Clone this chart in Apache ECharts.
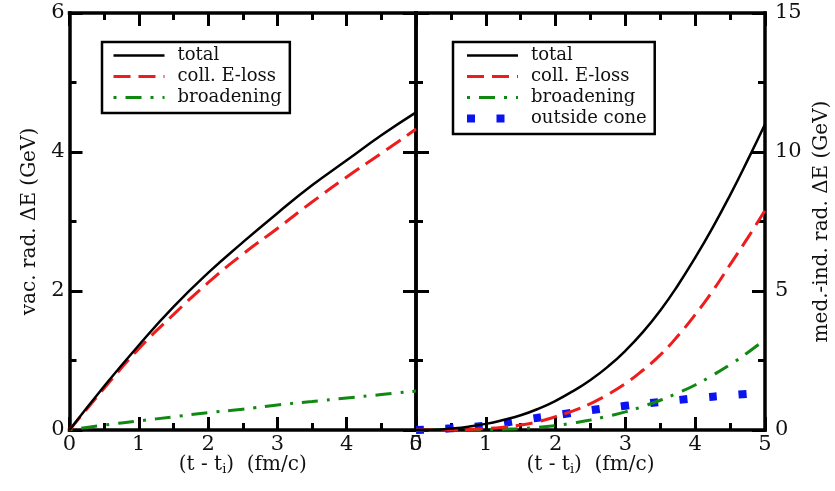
<!DOCTYPE html>
<html>
<head>
<meta charset="utf-8">
<script src="https://cdn.jsdelivr.net/npm/echarts@6/dist/echarts.min.js"></script>
<style>
  html, body { margin: 0; padding: 0; background: #fff; }
  #chart { width: 835px; height: 491px; }
</style>
</head>
<body>
<div id="chart"></div>
<script>
// time after creation, (t - t_i) in fm/c
const time = [0, 0.5, 1, 1.5, 2, 2.5, 3, 3.5, 4, 4.5, 5];
const timeFine = [0, 0.25, 0.5, 0.75, 1, 1.25, 1.5, 1.75, 2, 2.25, 2.5,
                  2.75, 3, 3.25, 3.5, 3.75, 4, 4.25, 4.5, 4.75, 5];

// vacuum radiation energy loss (GeV)
const vacTotal = [0, 0.63, 1.22, 1.77, 2.26, 2.70, 3.12, 3.52, 3.88, 4.24, 4.57];
const vacColl  = [0, 0.60, 1.17, 1.66, 2.12, 2.53, 2.90, 3.28, 3.64, 3.98, 4.33];
const vacBroad = [0, 0.07, 0.13, 0.19, 0.25, 0.30, 0.36, 0.41, 0.46, 0.51, 0.56];

// medium-induced radiation energy loss (GeV)
const medTotal = [0, 0.00, 0.05, 0.12, 0.22, 0.36, 0.53, 0.76, 1.05, 1.40, 1.80,
                  2.28, 2.85, 3.52, 4.30, 5.20, 6.20, 7.28, 8.45, 9.70, 11.0];
const medColl  = [0, 0.00, 0.00, 0.02, 0.05, 0.10, 0.18, 0.30, 0.48, 0.69, 0.95,
                  1.28, 1.67, 2.15, 2.70, 3.38, 4.15, 5.00, 5.95, 6.90, 7.90];
const medBroad = [0, 0.00, 0.00, 0.00, 0.01, 0.03, 0.05, 0.10, 0.16, 0.25, 0.36,
                  0.50, 0.65, 0.85, 1.07, 1.33, 1.62, 1.97, 2.35, 2.78, 3.25];
const medOutside = [0, 0.06, 0.16, 0.35, 0.53, 0.71, 0.87, 1.01, 1.14, 1.25, 1.35];

// axis ticks
const timeTicks = [0, 1, 2, 3, 4, 5];
const vacTicks  = [0, 2, 4, 6];
const medTicks  = [0, 5, 10, 15];

const FONT = '"DejaVu Serif", "Liberation Serif", serif';
const INK = '#111';

const pairs = (xs, ys) => xs.map((t, i) => [t, ys[i]]);
const step = a => a[1] - a[0];

const styles = {
  'total':        { color: '#000',    width: 2.5, type: 'solid' },
  'coll. E-loss': { color: '#ee1c1c', width: 3,   type: [17, 8] },
  'broadening':   { color: '#118811', width: 3,   type: [3, 9, 16, 9] },
  'outside cone': { color: '#0a14f0', width: 8,   type: [8, 21.5] }
};

function lineSeries(name, xs, ys, g) {
  const s = styles[name];
  return {
    type: 'line', name, data: pairs(xs, ys),
    xAxisIndex: g * 2, yAxisIndex: g * 2,
    smooth: 0.5,
    symbol: 'none', showSymbol: false,
    lineStyle: { color: s.color, width: s.width, type: s.type, cap: 'butt' },
    itemStyle: { color: s.color },
    emphasis: { disabled: true },
    animation: false
  };
}

const frameLine = { show: true, onZero: false, lineStyle: { color: '#000', width: 3.5, cap: 'square' } };
const tick = { show: true, inside: true, length: 13, lineStyle: { color: '#000', width: 3 } };
const minor = { show: true, splitNumber: 2, length: 7, lineStyle: { color: '#000', width: 3 } };
const labelStyle = { fontFamily: FONT, fontSize: 21, color: INK };

function xAxes(g) {
  const base = {
    type: 'value', gridIndex: g,
    min: timeTicks[0], max: timeTicks[timeTicks.length - 1], interval: step(timeTicks),
    axisLine: frameLine, axisTick: tick, minorTick: minor, splitLine: { show: false }
  };
  return [
    Object.assign({}, base, {
      position: 'bottom',
      axisLabel: Object.assign({ margin: 4 }, labelStyle),
      name: '(t - t{sub|i})  (fm/c)',
      nameLocation: 'middle', nameGap: 24, nameMoveOverlap: false,
      nameTextStyle: {
        fontFamily: FONT, fontSize: 20, color: INK, lineHeight: 22,
        rich: { sub: { fontFamily: FONT, fontSize: 13, color: INK, lineHeight: 13, padding: [14, 0, 0, 0], verticalAlign: 'bottom' } }
      }
    }),
    Object.assign({}, base, { position: 'top', axisLabel: { show: false } })
  ];
}

function yAxes(g, ticks, title, labelSide) {
  const base = {
    type: 'value', gridIndex: g,
    min: ticks[0], max: ticks[ticks.length - 1], interval: step(ticks),
    axisLine: frameLine, axisTick: tick, minorTick: minor, splitLine: { show: false }
  };
  const labelled = Object.assign({}, base, {
    position: labelSide,
    axisLabel: Object.assign({ margin: labelSide === 'left' ? 5 : 10 }, labelStyle),
    name: title, nameLocation: 'middle', nameRotate: 90, nameMoveOverlap: false,
    nameGap: labelSide === 'left' ? 30 : 47,
    nameTextStyle: { fontFamily: FONT, fontSize: 20, color: INK }
  });
  const plain = Object.assign({}, base, {
    position: labelSide === 'left' ? 'right' : 'left',
    axisLabel: { show: false }
  });
  return [labelled, plain];
}

function legend(left, names) {
  return {
    left, top: 42, orient: 'vertical',
    selectedMode: false,
    itemWidth: 51, itemHeight: 12, itemGap: 0,
    backgroundColor: '#fff', borderColor: '#000', borderWidth: 2.5, borderRadius: 0,
    padding: [3, 8, 5, 10],
    textStyle: { fontFamily: FONT, fontSize: 18, color: INK, lineHeight: 21, padding: [0, 0, 0, 8] },
    data: names.map(n => ({
      name: n,
      lineStyle: { color: styles[n].color, width: styles[n].width, type: styles[n].type, cap: 'butt' },
      itemStyle: { color: styles[n].color, opacity: 0 }
    }))
  };
}

const chart = echarts.init(document.getElementById('chart'), null, { renderer: 'canvas' });
chart.setOption({
  backgroundColor: '#fff',
  animation: false,
  grid: [
    { left: 69.5, width: 346.5, top: 13, height: 417, outerBoundsMode: 'none', containLabel: false },
    { left: 416, width: 349, top: 13, height: 417, outerBoundsMode: 'none', containLabel: false }
  ],
  xAxis: [...xAxes(0), ...xAxes(1)],
  yAxis: [
    ...yAxes(0, vacTicks, 'vac. rad. \u0394E (GeV)', 'left'),
    ...yAxes(1, medTicks, 'med.-ind. rad. \u0394E (GeV)', 'right')
  ],
  legend: [
    legend(102, ['total', 'coll. E-loss', 'broadening']),
    legend(453, ['total', 'coll. E-loss', 'broadening', 'outside cone'])
  ],
  series: [
    lineSeries('broadening', time, vacBroad, 0),
    lineSeries('coll. E-loss', time, vacColl, 0),
    lineSeries('total', time, vacTotal, 0),
    lineSeries('outside cone', time, medOutside, 1),
    lineSeries('broadening', timeFine, medBroad, 1),
    lineSeries('coll. E-loss', timeFine, medColl, 1),
    lineSeries('total', timeFine, medTotal, 1)
  ]
});
</script>
</body>
</html>
